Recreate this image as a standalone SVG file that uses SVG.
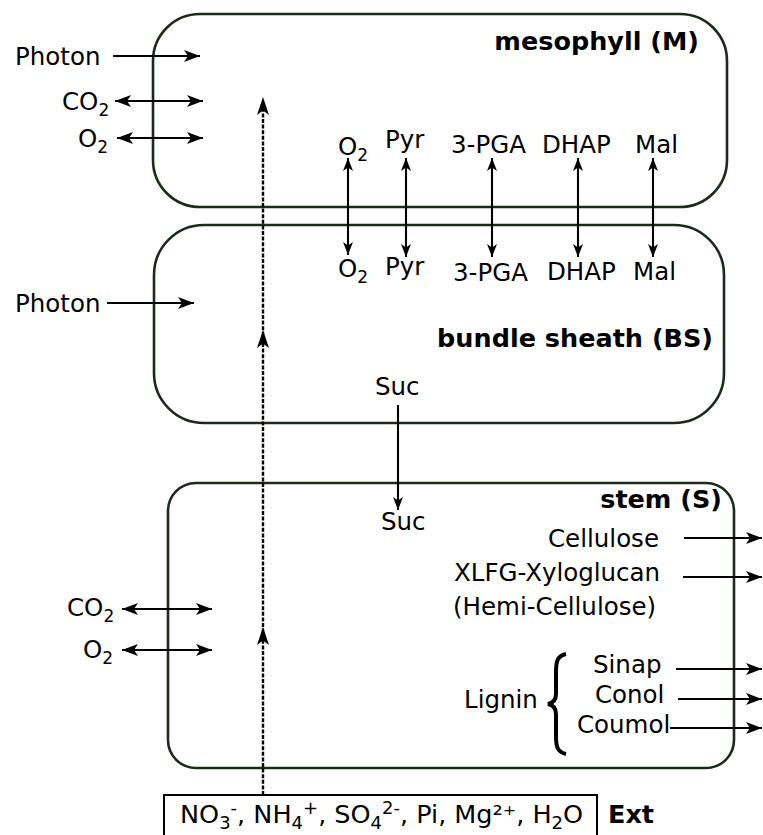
<svg xmlns="http://www.w3.org/2000/svg" width="763" height="835" viewBox="0 0 763 835">
<style>
text{font-family:"DejaVu Sans","Liberation Sans",sans-serif;font-size:24.5px;fill:#000}
.b{font-weight:bold;font-size:25.5px}
.sub{font-size:17px}
.ex{font-size:25.5px}
.ex .sub{font-size:18px}
.box{fill:none;stroke:#1c2a1c;stroke-width:2.6}
.ln{fill:none;stroke:#000;stroke-width:2.1}
.dash{fill:none;stroke:#000;stroke-width:2.4;stroke-dasharray:4 1.6}
.hd{fill:#000;stroke:none}
</style>
<defs>
<marker id="a" viewBox="-18 -8 20 16" refX="0" refY="0" markerWidth="20" markerHeight="16" markerUnits="userSpaceOnUse" orient="auto-start-reverse">
<path d="M0,0 L-16,-6 L-12,0 L-16,6 Z" fill="#000"/>
</marker>
<marker id="s" viewBox="-14 -7 16 14" refX="0" refY="0" markerWidth="16" markerHeight="14" markerUnits="userSpaceOnUse" orient="auto-start-reverse">
<path d="M0,0 L-13,-5 L-9.5,0 L-13,5 Z" fill="#000"/>
</marker>
</defs>

<g id="mesophyll">
<rect class="box" x="153" y="14" width="574" height="193" rx="47"/>
<text class="b" x="699" y="50" text-anchor="end">mesophyll (M)</text>
<text x="338" y="155">O<tspan class="sub" dy="6">2</tspan></text>
<text x="385" y="148">Pyr</text>
<text x="451" y="153">3-PGA</text>
<text x="542" y="153">DHAP</text>
<text x="635" y="153">Mal</text>
</g>

<g id="bundle-sheath">
<rect class="box" x="154" y="225" width="570" height="198" rx="50"/>
<text class="b" x="713" y="347" text-anchor="end">bundle sheath (BS)</text>
<text x="338" y="277">O<tspan class="sub" dy="6">2</tspan></text>
<text x="385" y="275">Pyr</text>
<text x="453" y="281">3-PGA</text>
<text x="547" y="280">DHAP</text>
<text x="633" y="280">Mal</text>
<text x="375" y="395">Suc</text>
</g>

<g id="stem">
<rect class="box" x="168" y="483" width="566" height="285" rx="28"/>
<text class="b" x="722" y="508" text-anchor="end">stem (S)</text>
<text x="381" y="530">Suc</text>
<text x="548" y="547">Cellulose</text>
<text x="454" y="581">XLFG-Xyloglucan</text>
<text x="453" y="615">(Hemi-Cellulose)</text>
<text x="464" y="708">Lignin</text>
<path d="M566,654 C557,656 556,662 556,672 L556,694 C556,700 553,703 548,704 C553,705 556,708 556,714 L556,736 C556,746 557,752 566,754" fill="none" stroke="#000" stroke-width="4"/>
<text x="593" y="673">Sinap</text>
<text x="595" y="703">Conol</text>
<text x="577" y="733">Coumol</text>
</g>

<g id="external">
<text x="15" y="65">Photon</text>
<text x="62" y="110">CO<tspan class="sub" dy="6">2</tspan></text>
<text x="78" y="147">O<tspan class="sub" dy="6">2</tspan></text>
<text x="15" y="312">Photon</text>
<text x="67" y="616">CO<tspan class="sub" dy="6">2</tspan></text>
<text x="83" y="658">O<tspan class="sub" dy="6">2</tspan></text>
</g>

<g id="ext">
<rect x="164" y="795" width="433" height="50" fill="none" stroke="#000" stroke-width="2"/>
<text class="ex" x="180" y="823">NO<tspan class="sub" dy="6">3</tspan><tspan class="sub" dy="-15">-</tspan><tspan dy="9">, NH</tspan><tspan class="sub" dy="6">4</tspan><tspan class="sub" dy="-15">+</tspan><tspan dy="9">, SO</tspan><tspan class="sub" dy="6">4</tspan><tspan class="sub" dy="-15">2-</tspan><tspan dy="9">, Pi, Mg²⁺, H</tspan><tspan class="sub" dy="6">2</tspan><tspan dy="-6">O</tspan></text>
<text class="b" x="608" y="823">Ext</text>
</g>

<g id="connectors">
<line class="ln" x1="113" y1="56" x2="200" y2="56" marker-end="url(#a)"/>
<line class="ln" x1="115" y1="101" x2="203" y2="101" marker-start="url(#a)" marker-end="url(#a)"/>
<line class="ln" x1="117" y1="138" x2="203" y2="138" marker-start="url(#a)" marker-end="url(#a)"/>
<line class="ln" x1="107" y1="303" x2="194" y2="303" marker-end="url(#a)"/>
<line class="ln" x1="122" y1="609" x2="212" y2="609" marker-start="url(#a)" marker-end="url(#a)"/>
<line class="ln" x1="122" y1="650" x2="212" y2="650" marker-start="url(#a)" marker-end="url(#a)"/>

<line class="ln" x1="348" y1="158" x2="348" y2="255" marker-start="url(#s)" marker-end="url(#s)"/>
<line class="ln" x1="406" y1="158" x2="406" y2="257" marker-start="url(#s)" marker-end="url(#s)"/>
<line class="ln" x1="492" y1="158" x2="492" y2="257" marker-start="url(#s)" marker-end="url(#s)"/>
<line class="ln" x1="578" y1="158" x2="578" y2="257" marker-start="url(#s)" marker-end="url(#s)"/>
<line class="ln" x1="653" y1="158" x2="653" y2="257" marker-start="url(#s)" marker-end="url(#s)"/>

<line class="ln" x1="398" y1="405" x2="398" y2="510" marker-end="url(#s)"/>

<line class="ln" x1="684" y1="538" x2="762" y2="538" marker-end="url(#a)"/>
<line class="ln" x1="683" y1="577" x2="762" y2="577" marker-end="url(#a)"/>
<line class="ln" x1="676" y1="669" x2="762" y2="669" marker-end="url(#a)"/>
<line class="ln" x1="678" y1="699" x2="762" y2="699" marker-end="url(#a)"/>
<line class="ln" x1="670" y1="728" x2="762" y2="728" marker-end="url(#a)"/>

<line class="dash" x1="263" y1="795" x2="263" y2="106"/>
<path class="hd" d="M263,97 L257,115 L263,110.5 L269,115 Z"/>
<path class="hd" d="M263,330 L257,348 L263,343.5 L269,348 Z"/>
<path class="hd" d="M263,627 L257,645 L263,640.5 L269,645 Z"/>
</g>
</svg>
